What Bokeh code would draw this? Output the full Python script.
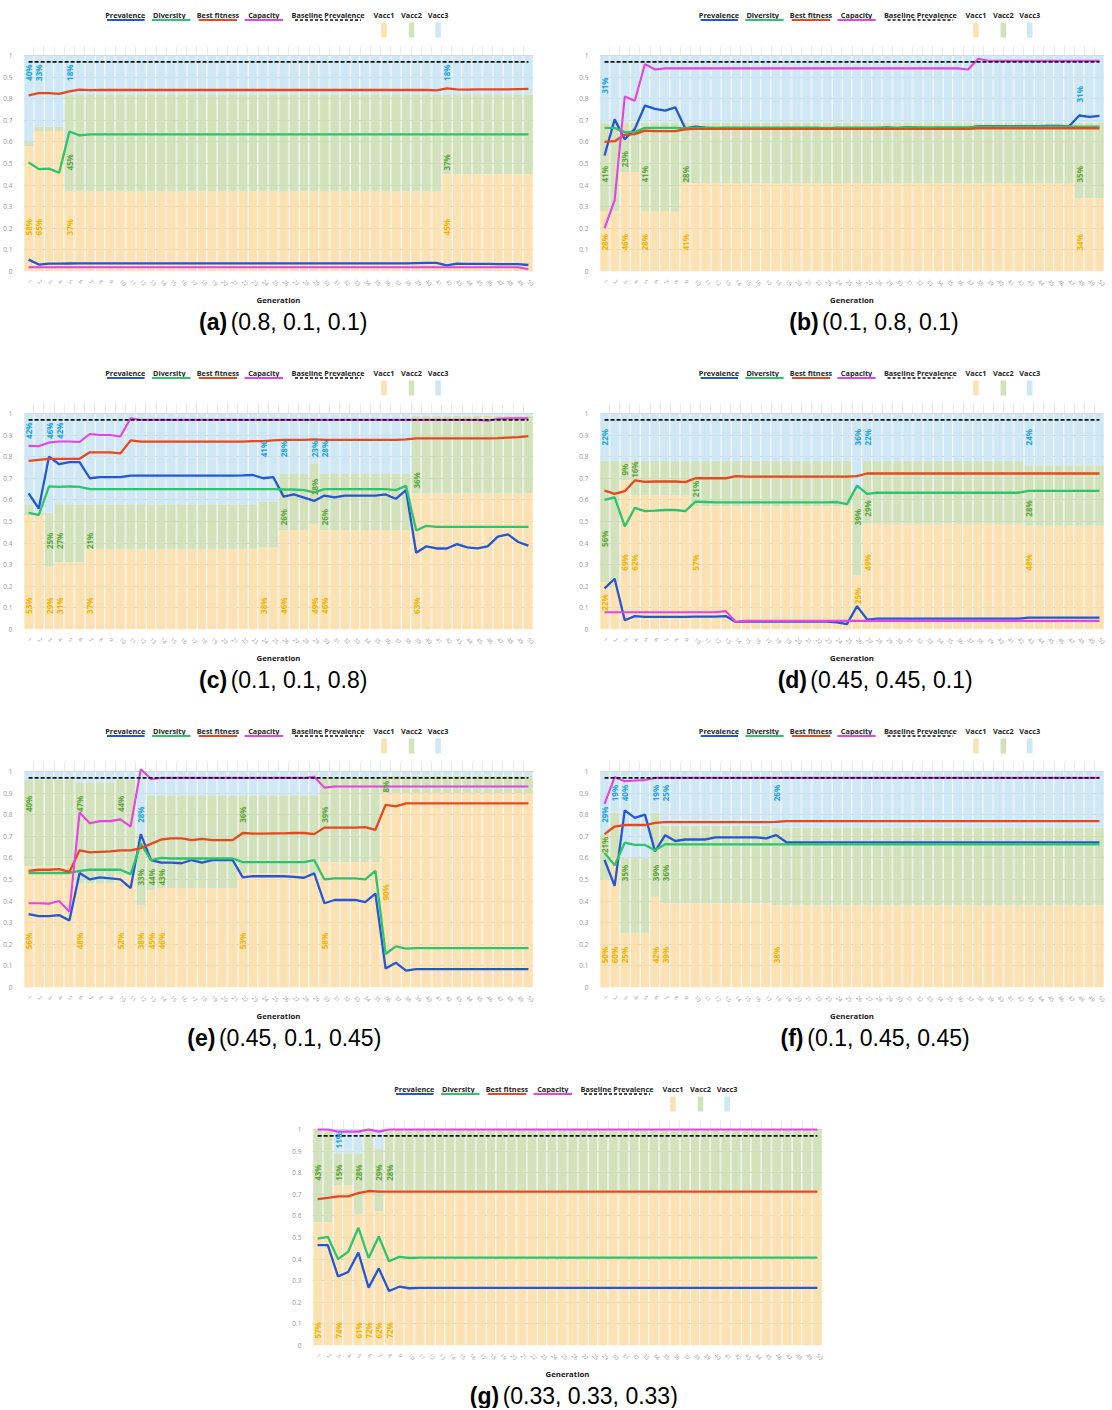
import math
from bokeh.plotting import figure
from bokeh.models import ColumnDataSource, Range1d, FixedTicker, Spacer
from bokeh.layouts import column, row
from bokeh.core.properties import value
from bokeh.embed import file_html
from bokeh.resources import INLINE

# ---------------------------------------------------------------- data
GENS = list(range(1, 51))
BASE_X = [1, 50]
BASE_Y = [0.97, 0.97]
YTICKS = [0.0, 0.1, 0.2, 0.3, 0.4, 0.5, 0.6, 0.7, 0.8, 0.9, 1.0]
YLABELS = ["0", "0.1", "0.2", "0.3", "0.4", "0.5", "0.6", "0.7", "0.8", "0.9", "1"]
SERIES_NAMES = ["Prevalence", "Diversity", "Best fitness", "Capacity", "Baseline Prevalence"]
VACC_NAMES = ["Vacc1", "Vacc2", "Vacc3"]

# (a) (0.8, 0.1, 0.1)
A_PREV = [0.055, 0.032, 0.036, 0.036, 0.037, 0.038, 0.038, 0.038, 0.038, 0.038,
          0.038, 0.038, 0.038, 0.038, 0.038, 0.038, 0.038, 0.038, 0.038, 0.038,
          0.038, 0.038, 0.038, 0.038, 0.038, 0.038, 0.038, 0.038, 0.038, 0.038,
          0.038, 0.038, 0.038, 0.038, 0.038, 0.038, 0.038, 0.038, 0.039, 0.040,
          0.040, 0.028, 0.036, 0.035, 0.035, 0.035, 0.034, 0.034, 0.034, 0.030]
A_DIV = [0.505, 0.474, 0.476, 0.457, 0.648, 0.630, 0.635, 0.635, 0.635, 0.635,
         0.635, 0.635, 0.635, 0.635, 0.635, 0.635, 0.635, 0.635, 0.635, 0.635,
         0.635, 0.635, 0.635, 0.635, 0.635, 0.635, 0.635, 0.635, 0.635, 0.635,
         0.635, 0.635, 0.635, 0.635, 0.635, 0.635, 0.635, 0.635, 0.635, 0.635,
         0.635, 0.635, 0.635, 0.635, 0.635, 0.635, 0.635, 0.635, 0.635, 0.635]
A_FIT = [0.815, 0.826, 0.826, 0.822, 0.834, 0.842, 0.839, 0.840, 0.840, 0.840,
         0.840, 0.840, 0.840, 0.840, 0.840, 0.840, 0.840, 0.840, 0.840, 0.840,
         0.840, 0.840, 0.840, 0.840, 0.840, 0.840, 0.840, 0.840, 0.840, 0.840,
         0.840, 0.840, 0.840, 0.840, 0.840, 0.840, 0.840, 0.840, 0.840, 0.840,
         0.838, 0.848, 0.843, 0.842, 0.843, 0.843, 0.843, 0.843, 0.844, 0.845]
A_CAP = [0.020, 0.020, 0.020, 0.020, 0.020, 0.020, 0.020, 0.020, 0.020, 0.020,
         0.020, 0.020, 0.020, 0.020, 0.020, 0.020, 0.020, 0.020, 0.020, 0.020,
         0.020, 0.020, 0.020, 0.020, 0.020, 0.020, 0.020, 0.020, 0.020, 0.020,
         0.020, 0.020, 0.020, 0.020, 0.020, 0.020, 0.020, 0.020, 0.020, 0.020,
         0.020, 0.020, 0.020, 0.020, 0.020, 0.020, 0.020, 0.020, 0.020, 0.010]
A_V1 = [58, 65, 65, 65, 37, 37, 37, 37, 37, 37,
        37, 37, 37, 37, 37, 37, 37, 37, 37, 37,
        37, 37, 37, 37, 37, 37, 37, 37, 37, 37,
        37, 37, 37, 37, 37, 37, 37, 37, 37, 37,
        37, 45, 45, 45, 45, 45, 45, 45, 45, 45]
A_V2 = [2, 2, 2, 2, 45, 45, 45, 45, 45, 45,
        45, 45, 45, 45, 45, 45, 45, 45, 45, 45,
        45, 45, 45, 45, 45, 45, 45, 45, 45, 45,
        45, 45, 45, 45, 45, 45, 45, 45, 45, 45,
        45, 37, 37, 37, 37, 37, 37, 37, 37, 37]
A_V3 = [40, 33, 33, 33, 18, 18, 18, 18, 18, 18,
        18, 18, 18, 18, 18, 18, 18, 18, 18, 18,
        18, 18, 18, 18, 18, 18, 18, 18, 18, 18,
        18, 18, 18, 18, 18, 18, 18, 18, 18, 18,
        18, 18, 18, 18, 18, 18, 18, 18, 18, 18]
A_LAB = [(1, 1), (1, 3), (2, 1), (2, 3), (5, 1), (5, 2), (5, 3), (42, 1), (42, 2), (42, 3)]

# (b) (0.1, 0.8, 0.1)
B_PREV = [0.537, 0.704, 0.612, 0.660, 0.768, 0.753, 0.745, 0.760, 0.662, 0.670,
          0.666, 0.663, 0.665, 0.665, 0.665, 0.665, 0.665, 0.665, 0.665, 0.665,
          0.665, 0.665, 0.662, 0.665, 0.665, 0.665, 0.665, 0.665, 0.667, 0.663,
          0.668, 0.666, 0.663, 0.665, 0.665, 0.665, 0.665, 0.673, 0.673, 0.673,
          0.673, 0.673, 0.673, 0.673, 0.674, 0.674, 0.672, 0.722, 0.716, 0.720]
B_DIV = [0.665, 0.665, 0.645, 0.645, 0.665, 0.665, 0.665, 0.665, 0.662, 0.665,
         0.665, 0.665, 0.665, 0.665, 0.665, 0.665, 0.665, 0.665, 0.665, 0.665,
         0.665, 0.665, 0.665, 0.665, 0.665, 0.665, 0.665, 0.665, 0.665, 0.665,
         0.667, 0.667, 0.667, 0.667, 0.667, 0.667, 0.667, 0.670, 0.670, 0.670,
         0.670, 0.670, 0.670, 0.670, 0.670, 0.670, 0.670, 0.670, 0.670, 0.670]
B_FIT = [0.600, 0.603, 0.633, 0.636, 0.652, 0.650, 0.650, 0.650, 0.658, 0.660,
         0.660, 0.660, 0.660, 0.660, 0.660, 0.660, 0.660, 0.660, 0.660, 0.660,
         0.660, 0.660, 0.660, 0.660, 0.660, 0.660, 0.660, 0.660, 0.660, 0.660,
         0.660, 0.660, 0.660, 0.660, 0.660, 0.660, 0.660, 0.663, 0.663, 0.663,
         0.663, 0.663, 0.663, 0.663, 0.663, 0.663, 0.663, 0.663, 0.663, 0.663]
B_CAP = [0.200, 0.330, 0.810, 0.790, 0.960, 0.935, 0.940, 0.940, 0.940, 0.940,
         0.940, 0.940, 0.940, 0.940, 0.940, 0.940, 0.940, 0.940, 0.940, 0.940,
         0.940, 0.940, 0.940, 0.940, 0.940, 0.940, 0.940, 0.940, 0.940, 0.940,
         0.940, 0.940, 0.940, 0.940, 0.940, 0.940, 0.935, 0.985, 0.975, 0.975,
         0.975, 0.975, 0.975, 0.975, 0.975, 0.975, 0.975, 0.975, 0.975, 0.975]
B_V1 = [28, 28, 46, 46, 28, 28, 28, 28, 41, 41,
        41, 41, 41, 41, 41, 41, 41, 41, 41, 41,
        41, 41, 41, 41, 41, 41, 41, 41, 41, 41,
        41, 41, 41, 41, 41, 41, 41, 41, 41, 41,
        41, 41, 41, 41, 41, 41, 41, 34, 34, 34]
B_V2 = [41, 41, 23, 23, 41, 41, 41, 41, 28, 28,
        28, 28, 28, 28, 28, 28, 28, 28, 28, 28,
        28, 28, 28, 28, 28, 28, 28, 28, 28, 28,
        28, 28, 28, 28, 28, 28, 28, 28, 28, 28,
        28, 28, 28, 28, 28, 28, 28, 35, 35, 35]
B_V3 = [31, 31, 31, 31, 31, 31, 31, 31, 31, 31,
        31, 31, 31, 31, 31, 31, 31, 31, 31, 31,
        31, 31, 31, 31, 31, 31, 31, 31, 31, 31,
        31, 31, 31, 31, 31, 31, 31, 31, 31, 31,
        31, 31, 31, 31, 31, 31, 31, 31, 31, 31]
B_LAB = [(1, 1), (1, 2), (1, 3), (3, 1), (3, 2), (5, 1), (5, 2), (9, 1), (9, 2),
         (48, 1), (48, 2), (48, 3)]

# (c) (0.1, 0.1, 0.8)
C_PREV = [0.630, 0.560, 0.800, 0.765, 0.775, 0.775, 0.700, 0.705, 0.705, 0.705,
          0.712, 0.712, 0.712, 0.712, 0.712, 0.712, 0.712, 0.712, 0.712, 0.712,
          0.712, 0.713, 0.715, 0.700, 0.705, 0.615, 0.625, 0.610, 0.595, 0.620,
          0.612, 0.620, 0.620, 0.620, 0.620, 0.625, 0.605, 0.645, 0.355, 0.385,
          0.375, 0.375, 0.395, 0.380, 0.375, 0.385, 0.430, 0.440, 0.405, 0.388]
C_DIV = [0.540, 0.530, 0.662, 0.660, 0.662, 0.660, 0.650, 0.650, 0.650, 0.650,
         0.650, 0.650, 0.650, 0.650, 0.650, 0.650, 0.650, 0.650, 0.650, 0.650,
         0.650, 0.650, 0.650, 0.650, 0.650, 0.648, 0.648, 0.645, 0.635, 0.650,
         0.650, 0.650, 0.650, 0.650, 0.650, 0.650, 0.645, 0.665, 0.458, 0.480,
         0.475, 0.475, 0.475, 0.475, 0.475, 0.475, 0.475, 0.475, 0.475, 0.475]
C_FIT = [0.780, 0.785, 0.790, 0.790, 0.790, 0.790, 0.820, 0.820, 0.820, 0.815,
         0.875, 0.870, 0.870, 0.870, 0.870, 0.870, 0.870, 0.870, 0.870, 0.870,
         0.870, 0.870, 0.872, 0.872, 0.875, 0.878, 0.878, 0.878, 0.880, 0.878,
         0.878, 0.878, 0.878, 0.878, 0.878, 0.878, 0.878, 0.880, 0.885, 0.885,
         0.885, 0.885, 0.885, 0.885, 0.885, 0.885, 0.886, 0.888, 0.890, 0.895]
C_CAP = [0.850, 0.848, 0.865, 0.870, 0.870, 0.868, 0.905, 0.900, 0.900, 0.893,
         0.978, 0.970, 0.970, 0.970, 0.970, 0.970, 0.970, 0.970, 0.970, 0.970,
         0.970, 0.970, 0.970, 0.970, 0.970, 0.970, 0.970, 0.970, 0.970, 0.970,
         0.970, 0.970, 0.970, 0.970, 0.970, 0.970, 0.970, 0.970, 0.970, 0.970,
         0.970, 0.970, 0.970, 0.970, 0.970, 0.966, 0.975, 0.977, 0.977, 0.977]
C_V1 = [53, 53, 29, 31, 31, 31, 37, 37, 37, 37,
        37, 37, 37, 37, 37, 37, 37, 37, 37, 37,
        37, 37, 37, 38, 38, 46, 46, 46, 49, 46,
        46, 46, 46, 46, 46, 46, 46, 46, 63, 63,
        63, 63, 63, 63, 63, 63, 63, 63, 63, 63]
C_V2 = [5, 1, 25, 27, 27, 27, 21, 21, 21, 21,
        21, 21, 21, 21, 21, 21, 21, 21, 21, 21,
        21, 21, 21, 21, 21, 26, 26, 26, 28, 26,
        26, 26, 26, 26, 26, 26, 26, 26, 36, 36,
        36, 36, 36, 36, 36, 36, 36, 36, 36, 36]
C_V3 = [42, 46, 46, 42, 42, 42, 42, 42, 42, 42,
        42, 42, 42, 42, 42, 42, 42, 42, 42, 42,
        42, 42, 42, 41, 41, 28, 28, 28, 23, 28,
        28, 28, 28, 28, 28, 28, 28, 28, 1, 1,
        1, 1, 1, 1, 1, 1, 1, 1, 1, 1]
C_LAB = [(1, 1), (1, 3), (3, 1), (3, 2), (3, 3), (4, 1), (4, 2), (4, 3), (7, 1), (7, 2),
         (24, 1), (24, 3), (26, 1), (26, 2), (26, 3), (29, 1), (29, 2), (29, 3),
         (30, 1), (30, 2), (30, 3), (39, 1), (39, 2)]

# (d) (0.45, 0.45, 0.1)
D_PREV = [0.190, 0.235, 0.043, 0.062, 0.058, 0.058, 0.058, 0.058, 0.058, 0.060,
          0.060, 0.060, 0.062, 0.035, 0.037, 0.037, 0.037, 0.037, 0.037, 0.037,
          0.037, 0.037, 0.036, 0.033, 0.025, 0.108, 0.046, 0.050, 0.050, 0.050,
          0.050, 0.050, 0.050, 0.050, 0.050, 0.050, 0.050, 0.050, 0.050, 0.050,
          0.050, 0.050, 0.055, 0.055, 0.055, 0.055, 0.055, 0.055, 0.055, 0.055]
D_DIV = [0.600, 0.612, 0.477, 0.563, 0.548, 0.550, 0.553, 0.553, 0.548, 0.592,
         0.590, 0.588, 0.588, 0.588, 0.588, 0.588, 0.588, 0.588, 0.588, 0.588,
         0.588, 0.588, 0.588, 0.590, 0.580, 0.666, 0.628, 0.633, 0.633, 0.633,
         0.633, 0.633, 0.633, 0.633, 0.633, 0.633, 0.633, 0.633, 0.633, 0.633,
         0.633, 0.633, 0.642, 0.642, 0.642, 0.642, 0.642, 0.642, 0.642, 0.642]
D_FIT = [0.643, 0.628, 0.640, 0.690, 0.683, 0.685, 0.685, 0.685, 0.682, 0.700,
         0.700, 0.700, 0.700, 0.710, 0.708, 0.708, 0.708, 0.708, 0.708, 0.708,
         0.708, 0.708, 0.708, 0.708, 0.708, 0.710, 0.722, 0.722, 0.722, 0.722,
         0.722, 0.722, 0.722, 0.722, 0.722, 0.722, 0.722, 0.722, 0.722, 0.722,
         0.722, 0.722, 0.722, 0.722, 0.722, 0.722, 0.722, 0.722, 0.722, 0.722]
D_CAP = [0.080, 0.080, 0.080, 0.080, 0.080, 0.080, 0.080, 0.080, 0.080, 0.080,
         0.080, 0.080, 0.085, 0.035, 0.040, 0.040, 0.040, 0.040, 0.040, 0.040,
         0.040, 0.040, 0.040, 0.040, 0.040, 0.040, 0.040, 0.040, 0.040, 0.040,
         0.040, 0.040, 0.040, 0.040, 0.040, 0.040, 0.040, 0.040, 0.040, 0.040,
         0.040, 0.040, 0.040, 0.040, 0.040, 0.040, 0.040, 0.040, 0.040, 0.040]
D_V1 = [22, 22, 69, 62, 62, 62, 62, 62, 62, 57,
        57, 57, 57, 57, 57, 57, 57, 57, 57, 57,
        57, 57, 57, 57, 57, 25, 49, 49, 49, 49,
        49, 49, 49, 49, 49, 49, 49, 49, 49, 49,
        49, 49, 48, 48, 48, 48, 48, 48, 48, 48]
D_V2 = [56, 56, 9, 16, 16, 16, 16, 16, 16, 21,
        21, 21, 21, 21, 21, 21, 21, 21, 21, 21,
        21, 21, 21, 21, 21, 39, 29, 29, 29, 29,
        29, 29, 29, 29, 29, 29, 29, 29, 29, 29,
        29, 29, 28, 28, 28, 28, 28, 28, 28, 28]
D_V3 = [22, 22, 22, 22, 22, 22, 22, 22, 22, 22,
        22, 22, 22, 22, 22, 22, 22, 22, 22, 22,
        22, 22, 22, 22, 22, 36, 22, 22, 22, 22,
        22, 22, 22, 22, 22, 22, 22, 22, 22, 22,
        22, 22, 24, 24, 24, 24, 24, 24, 24, 24]
D_LAB = [(1, 1), (1, 2), (1, 3), (3, 1), (3, 2), (4, 1), (4, 2), (10, 1), (10, 2),
         (26, 1), (26, 2), (26, 3), (27, 1), (27, 2), (27, 3), (43, 1), (43, 2), (43, 3)]

# (e) (0.45, 0.1, 0.45)
E_PREV = [0.340, 0.330, 0.330, 0.335, 0.310, 0.530, 0.500, 0.510, 0.505, 0.500,
          0.460, 0.710, 0.590, 0.578, 0.578, 0.575, 0.590, 0.578, 0.590, 0.590,
          0.590, 0.510, 0.515, 0.515, 0.515, 0.515, 0.512, 0.508, 0.528, 0.390,
          0.405, 0.405, 0.405, 0.395, 0.435, 0.088, 0.115, 0.078, 0.085, 0.085,
          0.085, 0.085, 0.085, 0.085, 0.085, 0.085, 0.085, 0.085, 0.085, 0.085]
E_DIV = [0.530, 0.530, 0.530, 0.530, 0.530, 0.540, 0.545, 0.545, 0.545, 0.545,
         0.525, 0.666, 0.590, 0.600, 0.597, 0.597, 0.597, 0.597, 0.597, 0.597,
         0.597, 0.580, 0.580, 0.580, 0.580, 0.580, 0.580, 0.580, 0.590, 0.500,
         0.505, 0.505, 0.505, 0.500, 0.540, 0.155, 0.190, 0.180, 0.182, 0.182,
         0.182, 0.182, 0.182, 0.182, 0.182, 0.182, 0.182, 0.182, 0.182, 0.182]
E_FIT = [0.540, 0.545, 0.545, 0.548, 0.535, 0.635, 0.625, 0.628, 0.630, 0.635,
         0.635, 0.645, 0.665, 0.685, 0.690, 0.690, 0.682, 0.688, 0.682, 0.682,
         0.682, 0.715, 0.712, 0.712, 0.713, 0.713, 0.715, 0.715, 0.710, 0.740,
         0.740, 0.740, 0.740, 0.742, 0.730, 0.845, 0.838, 0.852, 0.852, 0.852,
         0.852, 0.852, 0.852, 0.852, 0.852, 0.852, 0.852, 0.852, 0.852, 0.852]
E_CAP = [0.390, 0.390, 0.388, 0.400, 0.350, 0.810, 0.760, 0.770, 0.770, 0.778,
         0.745, 1.010, 0.965, 0.970, 0.970, 0.970, 0.970, 0.970, 0.970, 0.970,
         0.970, 0.970, 0.970, 0.970, 0.970, 0.970, 0.970, 0.970, 0.975, 0.925,
         0.930, 0.930, 0.930, 0.930, 0.930, 0.930, 0.930, 0.930, 0.930, 0.930,
         0.930, 0.930, 0.930, 0.930, 0.930, 0.930, 0.930, 0.930, 0.930, 0.930]
E_V1 = [56, 56, 56, 56, 56, 48, 48, 48, 48, 52,
        52, 38, 45, 46, 46, 46, 46, 46, 46, 46,
        46, 53, 53, 53, 53, 53, 53, 53, 53, 58,
        58, 58, 58, 58, 58, 90, 90, 90, 90, 90,
        90, 90, 90, 90, 90, 90, 90, 90, 90, 90]
E_V2 = [40, 40, 40, 40, 40, 47, 47, 47, 47, 44,
        44, 33, 44, 43, 43, 43, 43, 43, 43, 43,
        43, 36, 36, 36, 36, 36, 36, 36, 36, 39,
        39, 39, 39, 39, 39, 8, 8, 8, 8, 8,
        8, 8, 8, 8, 8, 8, 8, 8, 8, 8]
E_V3 = [4, 4, 4, 4, 4, 5, 5, 5, 5, 4,
        4, 28, 11, 11, 11, 11, 11, 11, 11, 11,
        11, 11, 11, 11, 11, 11, 11, 11, 11, 3,
        3, 3, 3, 3, 3, 2, 2, 2, 2, 2,
        2, 2, 2, 2, 2, 2, 2, 2, 2, 2]
E_LAB = [(1, 1), (1, 2), (6, 1), (6, 2), (10, 1), (10, 2), (12, 1), (12, 2), (12, 3),
         (13, 1), (13, 2), (14, 1), (14, 2), (22, 1), (22, 2), (30, 1), (30, 2),
         (36, 1), (36, 2)]

# (f) (0.1, 0.45, 0.45)
F_PREV = [0.590, 0.470, 0.820, 0.785, 0.800, 0.630, 0.705, 0.678, 0.685, 0.685,
          0.685, 0.695, 0.695, 0.695, 0.695, 0.695, 0.690, 0.705, 0.672, 0.672,
          0.672, 0.672, 0.672, 0.672, 0.672, 0.672, 0.672, 0.672, 0.672, 0.672,
          0.672, 0.672, 0.672, 0.672, 0.672, 0.672, 0.672, 0.672, 0.672, 0.672,
          0.672, 0.672, 0.672, 0.672, 0.672, 0.672, 0.672, 0.672, 0.672, 0.672]
F_DIV = [0.623, 0.566, 0.670, 0.660, 0.660, 0.635, 0.663, 0.662, 0.662, 0.662,
         0.662, 0.662, 0.662, 0.662, 0.662, 0.662, 0.662, 0.662, 0.662, 0.662,
         0.662, 0.662, 0.662, 0.662, 0.662, 0.662, 0.662, 0.662, 0.662, 0.662,
         0.662, 0.662, 0.662, 0.662, 0.662, 0.662, 0.662, 0.662, 0.662, 0.662,
         0.662, 0.662, 0.662, 0.662, 0.662, 0.662, 0.662, 0.662, 0.662, 0.662]
F_FIT = [0.710, 0.745, 0.752, 0.752, 0.752, 0.762, 0.765, 0.765, 0.765, 0.765,
         0.765, 0.765, 0.765, 0.765, 0.765, 0.765, 0.765, 0.767, 0.770, 0.770,
         0.770, 0.770, 0.770, 0.770, 0.770, 0.770, 0.770, 0.770, 0.770, 0.770,
         0.770, 0.770, 0.770, 0.770, 0.770, 0.770, 0.770, 0.770, 0.770, 0.770,
         0.770, 0.770, 0.770, 0.770, 0.770, 0.770, 0.770, 0.770, 0.770, 0.770]
F_CAP = [0.850, 0.974, 0.955, 0.958, 0.960, 0.970, 0.970, 0.970, 0.970, 0.970,
         0.970, 0.970, 0.970, 0.970, 0.970, 0.970, 0.970, 0.970, 0.970, 0.970,
         0.970, 0.970, 0.970, 0.970, 0.970, 0.970, 0.970, 0.970, 0.970, 0.970,
         0.970, 0.970, 0.970, 0.970, 0.970, 0.970, 0.970, 0.970, 0.970, 0.970,
         0.970, 0.970, 0.970, 0.970, 0.970, 0.970, 0.970, 0.970, 0.970, 0.970]
F_V1 = [50, 60, 25, 25, 25, 42, 39, 39, 39, 39,
        39, 39, 39, 39, 39, 39, 39, 38, 38, 38,
        38, 38, 38, 38, 38, 38, 38, 38, 38, 38,
        38, 38, 38, 38, 38, 38, 38, 38, 38, 38,
        38, 38, 38, 38, 38, 38, 38, 38, 38, 38]
F_V2 = [21, 21, 35, 35, 35, 39, 36, 36, 36, 36,
        36, 36, 36, 36, 36, 36, 36, 36, 36, 36,
        36, 36, 36, 36, 36, 36, 36, 36, 36, 36,
        36, 36, 36, 36, 36, 36, 36, 36, 36, 36,
        36, 36, 36, 36, 36, 36, 36, 36, 36, 36]
F_V3 = [29, 19, 40, 40, 40, 19, 25, 25, 25, 25,
        25, 25, 25, 25, 25, 25, 25, 26, 26, 26,
        26, 26, 26, 26, 26, 26, 26, 26, 26, 26,
        26, 26, 26, 26, 26, 26, 26, 26, 26, 26,
        26, 26, 26, 26, 26, 26, 26, 26, 26, 26]
F_LAB = [(1, 1), (1, 2), (1, 3), (2, 1), (2, 3), (3, 1), (3, 2), (3, 3), (6, 1), (6, 2),
         (6, 3), (7, 1), (7, 2), (7, 3), (18, 1), (18, 3)]

# (g) (0.33, 0.33, 0.33)
G_PREV = [0.465, 0.465, 0.320, 0.340, 0.430, 0.268, 0.357, 0.252, 0.272, 0.265,
          0.267, 0.267, 0.267, 0.267, 0.267, 0.267, 0.267, 0.267, 0.267, 0.267,
          0.267, 0.267, 0.267, 0.267, 0.267, 0.267, 0.267, 0.267, 0.267, 0.267,
          0.267, 0.267, 0.267, 0.267, 0.267, 0.267, 0.267, 0.267, 0.267, 0.267,
          0.267, 0.267, 0.267, 0.267, 0.267, 0.267, 0.267, 0.267, 0.267, 0.267]
G_DIV = [0.495, 0.503, 0.400, 0.434, 0.545, 0.405, 0.505, 0.390, 0.410, 0.405,
         0.407, 0.407, 0.407, 0.407, 0.407, 0.407, 0.407, 0.407, 0.407, 0.407,
         0.407, 0.407, 0.407, 0.407, 0.407, 0.407, 0.407, 0.407, 0.407, 0.407,
         0.407, 0.407, 0.407, 0.407, 0.407, 0.407, 0.407, 0.407, 0.407, 0.407,
         0.407, 0.407, 0.407, 0.407, 0.407, 0.407, 0.407, 0.407, 0.407, 0.407]
G_FIT = [0.677, 0.683, 0.690, 0.690, 0.705, 0.715, 0.712, 0.712, 0.712, 0.712,
         0.712, 0.712, 0.712, 0.712, 0.712, 0.712, 0.712, 0.712, 0.712, 0.712,
         0.712, 0.712, 0.712, 0.712, 0.712, 0.712, 0.712, 0.712, 0.712, 0.712,
         0.712, 0.712, 0.712, 0.712, 0.712, 0.712, 0.712, 0.712, 0.712, 0.712,
         0.712, 0.712, 0.712, 0.712, 0.712, 0.712, 0.712, 0.712, 0.712, 0.712]
G_CAP = [1.000, 1.000, 0.990, 0.990, 0.990, 1.000, 0.990, 1.000, 1.000, 1.000,
         1.000, 1.000, 1.000, 1.000, 1.000, 1.000, 1.000, 1.000, 1.000, 1.000,
         1.000, 1.000, 1.000, 1.000, 1.000, 1.000, 1.000, 1.000, 1.000, 1.000,
         1.000, 1.000, 1.000, 1.000, 1.000, 1.000, 1.000, 1.000, 1.000, 1.000,
         1.000, 1.000, 1.000, 1.000, 1.000, 1.000, 1.000, 1.000, 1.000, 1.000]
G_V1 = [57, 57, 74, 74, 61, 72, 62, 72, 72, 72,
        72, 72, 72, 72, 72, 72, 72, 72, 72, 72,
        72, 72, 72, 72, 72, 72, 72, 72, 72, 72,
        72, 72, 72, 72, 72, 72, 72, 72, 72, 72,
        72, 72, 72, 72, 72, 72, 72, 72, 72, 72]
G_V2 = [43, 43, 15, 15, 28, 28, 29, 28, 28, 28,
        28, 28, 28, 28, 28, 28, 28, 28, 28, 28,
        28, 28, 28, 28, 28, 28, 28, 28, 28, 28,
        28, 28, 28, 28, 28, 28, 28, 28, 28, 28,
        28, 28, 28, 28, 28, 28, 28, 28, 28, 28]
G_V3 = [0, 0, 11, 11, 11, 0, 9, 0, 0, 0,
        0, 0, 0, 0, 0, 0, 0, 0, 0, 0,
        0, 0, 0, 0, 0, 0, 0, 0, 0, 0,
        0, 0, 0, 0, 0, 0, 0, 0, 0, 0,
        0, 0, 0, 0, 0, 0, 0, 0, 0, 0]
G_LAB = [(1, 1), (1, 2), (3, 1), (3, 2), (3, 3), (5, 1), (5, 2), (6, 1), (7, 1), (7, 2),
         (8, 1), (8, 2)]

# ---------------------------------------------------------------- styles
COL_PREV = "#2457D6"
COL_DIV = "#2CC46C"
COL_FIT = "#E8481E"
COL_CAP = "#E444E4"
COL_BASE = "#111111"
FILLS = ["#FCDFA9", "#CDDFB2", "#C9E5F5"]
LEG_FILLS = ["#FCE2B2", "#D2E2BA", "#CEE8F6"]
LAB_COLS = ["#F2B400", "#5EA63B", "#22A3E0"]
FONT = "Open Sans"
HEAD_H = 45          # legend strip above each plot
MAIN_H = 262         # plot frame (226) + x axis
FRAME_H = 226

# label heights (style), per panel: default per vaccine + overrides
LABEL_Y = {
    "a": ({1: 0.205, 2: 0.505, 3: 0.92}, {}),
    "b": ({1: 0.135, 2: 0.45, 3: 0.86}, {(3, 2): 0.52, (48, 3): 0.82}),
    "c": ({1: 0.11, 2: 0.41, 3: 0.92}, {(26, 2): 0.52, (30, 2): 0.52, (29, 2): 0.66,
                                        (39, 2): 0.69, (24, 3): 0.835, (26, 3): 0.835,
                                        (29, 3): 0.835, (30, 3): 0.835}),
    "d": ({1: 0.31, 2: 0.56, 3: 0.89}, {(1, 1): 0.125, (26, 1): 0.155, (1, 2): 0.42,
                                        (3, 2): 0.74, (4, 2): 0.74, (10, 2): 0.65,
                                        (26, 2): 0.52}),
    "e": ({1: 0.215, 2: 0.85, 3: 0.8}, {(36, 1): 0.44, (12, 2): 0.51, (13, 2): 0.51,
                                        (14, 2): 0.51, (22, 2): 0.8, (30, 2): 0.8,
                                        (36, 2): 0.93}),
    "f": ({1: 0.15, 2: 0.53, 3: 0.9}, {(1, 2): 0.66, (1, 3): 0.8}),
    "g": ({1: 0.07, 2: 0.8, 3: 0.95}, {}),
}

# legend layout relative to the plot frame's left edge (px)
LEG_TEXT_X = [88, 136, 189, 239, 309]
LEG_LINE_X = [(68, 109), (117, 159), (168, 210), (218, 260), (273, 345)]
LEG_BOX_X = [370, 400, 429]

# Arial/Liberation Sans advance widths (em) for caption centring
W_REG = {"(": 0.333, ")": 0.333, ".": 0.278, ",": 0.278, " ": 0.278}
W_BOLD = {"(": 0.333, ")": 0.333, "a": 0.556, "b": 0.611, "c": 0.556, "d": 0.611,
          "e": 0.556, "f": 0.333, "g": 0.611}


def twidth(s, table, size):
    return sum(table.get(ch, 0.556) for ch in s) * size


def strip_fig(width, height):
    f = figure(width=width, height=height, x_range=Range1d(0, width),
               y_range=Range1d(height, 0), x_axis_type=None, y_axis_type=None,
               output_backend="svg", toolbar_location=None, min_border=0)
    f.outline_line_color = None
    f.background_fill_color = "white"
    f.border_fill_color = "white"
    return f


def make_header(width, mbl):
    h = strip_fig(width, HEAD_H)
    cols = [COL_PREV, COL_DIV, COL_FIT, COL_CAP]
    h.text(x=[mbl + x for x in LEG_TEXT_X] + [mbl + x for x in LEG_BOX_X],
           y=[14] * 8, text=SERIES_NAMES + VACC_NAMES,
           text_font=value(FONT), text_font_size="7.3px", text_font_style="bold",
           text_color="#262626", text_align="center", text_baseline="middle")
    h.segment(x0=[mbl + a for a, b in LEG_LINE_X[:4]], x1=[mbl + b for a, b in LEG_LINE_X[:4]],
              y0=[19.5] * 4, y1=[19.5] * 4, line_color=cols, line_width=2)
    a, b = LEG_LINE_X[4]
    h.segment(x0=[mbl + a], x1=[mbl + b], y0=[19.5], y1=[19.5], line_color=COL_BASE,
              line_width=1.6, line_dash="3 2")
    h.quad(left=[mbl + x - 3 for x in LEG_BOX_X], right=[mbl + x + 3 for x in LEG_BOX_X],
           top=[22] * 3, bottom=[37] * 3, fill_color=LEG_FILLS, line_color=None)
    return h


def make_footer(width, height, mbl, fw, key, params):
    f = strip_fig(width, height)
    size = 23
    bold_txt = "(%s)" % key
    wb = twidth(bold_txt, W_BOLD, size)
    wr = twidth(params, W_REG, size)
    sp = 0.278 * size
    x0 = mbl + fw / 2 - 1 - (wb + sp + wr) / 2
    f.text(x=[x0], y=[14], text=[bold_txt], text_font=value("Liberation Sans"),
           text_font_style="bold", text_font_size="%dpx" % size, text_color="#000000",
           text_align="left", text_baseline="middle")
    f.text(x=[x0 + wb + sp], y=[14], text=[params], text_font=value("Liberation Sans"),
           text_font_size="%dpx" % size, text_color="#000000",
           text_align="left", text_baseline="middle")
    return f


def make_main(key, prev, div, fit, cap, v1, v2, v3, labs, width, mbl, mbr):
    for arr in (prev, div, fit, cap, v1, v2, v3):
        assert len(arr) == 50, (key, len(arr))
    p = figure(width=width, height=MAIN_H, x_range=Range1d(0.5, 50.5),
               y_range=Range1d(0, 1.046), output_backend="svg", toolbar_location=None,
               min_border_left=mbl, min_border_right=mbr, min_border_top=0,
               min_border_bottom=MAIN_H - FRAME_H)
    p.outline_line_color = None
    p.background_fill_color = "white"
    p.border_fill_color = "white"

    p.yaxis.ticker = FixedTicker(ticks=YTICKS)
    p.yaxis.major_label_overrides = {t: s for t, s in zip(YTICKS, YLABELS)}
    p.xaxis.ticker = FixedTicker(ticks=GENS)
    p.xaxis.major_label_orientation = -math.pi / 4
    for ax in (p.xaxis[0], p.yaxis[0]):
        ax.axis_line_color = None
        ax.major_tick_line_color = None
        ax.minor_tick_line_color = None
        ax.major_label_text_color = "#9a9a9a"
        ax.major_label_text_font = FONT
    p.yaxis.major_label_text_font_size = "6.5px"
    p.yaxis.major_label_standoff = 5
    p.xaxis.major_label_text_font_size = "5.5px"
    p.xaxis.major_label_standoff = 3
    p.xaxis.axis_label = "Generation"
    p.xaxis.axis_label_text_font = FONT
    p.xaxis.axis_label_text_font_size = "7.8px"
    p.xaxis.axis_label_text_font_style = "bold"
    p.xaxis.axis_label_text_color = "#1a1a1a"
    p.xaxis.axis_label_standoff = 4

    p.ygrid.grid_line_color = "#d6d6d6"
    p.xgrid.ticker = FixedTicker(ticks=[g + 0.5 for g in GENS[:-1]])
    p.xgrid.grid_line_color = "#ececec"

    src = ColumnDataSource(dict(gen=GENS, v1=[v / 100 for v in v1],
                                v2=[v / 100 for v in v2], v3=[v / 100 for v in v3]))
    p.vbar_stack(["v1", "v2", "v3"], x="gen", width=0.85, fill_color=FILLS,
                 fill_alpha=0.9, line_color=None, source=src)

    p.line(GENS, prev, line_color=COL_PREV, line_width=2.3)
    p.line(GENS, div, line_color=COL_DIV, line_width=2.3)
    p.line(GENS, fit, line_color=COL_FIT, line_width=2.3)
    p.line(GENS, cap, line_color=COL_CAP, line_width=2.1)
    p.line(BASE_X, BASE_Y, line_color=COL_BASE, line_width=1.8, line_dash="4 2")

    base, over = LABEL_Y[key]
    shares = {1: v1, 2: v2, 3: v3}
    lx, ly, lt, lc = [], [], [], []
    for g, v in labs:
        lx.append(g)
        ly.append(over.get((g, v), base[v]))
        lt.append("%d%%" % shares[v][g - 1])
        lc.append(LAB_COLS[v - 1])
    lsrc = ColumnDataSource(dict(x=lx, y=ly, text=lt, color=lc))
    p.text(x="x", y="y", text="text", text_color="color", source=lsrc,
           angle=math.pi / 2, text_font=value(FONT), text_font_style="bold",
           text_font_size="8px", text_align="center", text_baseline="middle")
    return p


def make_panel(key, params, prev, div, fit, cap, v1, v2, v3, labs, total_h,
               width, mbl, mbr):
    fw = width - mbl - mbr
    head = make_header(width, mbl)
    main = make_main(key, prev, div, fit, cap, v1, v2, v3, labs, width, mbl, mbr)
    foot = make_footer(width, total_h - HEAD_H - MAIN_H, mbl, fw, key, params)
    return column(head, main, foot, spacing=0)


ROW_H = 358
LAST_H = 334
L = dict(width=556, mbl=23, mbr=23)
R = dict(width=554, mbl=43, mbr=6)

pa = make_panel("a", "(0.8, 0.1, 0.1)", A_PREV, A_DIV, A_FIT, A_CAP, A_V1, A_V2, A_V3,
                A_LAB, ROW_H, **L)
pb = make_panel("b", "(0.1, 0.8, 0.1)", B_PREV, B_DIV, B_FIT, B_CAP, B_V1, B_V2, B_V3,
                B_LAB, ROW_H, **R)
pc = make_panel("c", "(0.1, 0.1, 0.8)", C_PREV, C_DIV, C_FIT, C_CAP, C_V1, C_V2, C_V3,
                C_LAB, ROW_H, **L)
pd = make_panel("d", "(0.45, 0.45, 0.1)", D_PREV, D_DIV, D_FIT, D_CAP, D_V1, D_V2, D_V3,
                D_LAB, ROW_H, **R)
pe = make_panel("e", "(0.45, 0.1, 0.45)", E_PREV, E_DIV, E_FIT, E_CAP, E_V1, E_V2, E_V3,
                E_LAB, ROW_H, **L)
pf = make_panel("f", "(0.1, 0.45, 0.45)", F_PREV, F_DIV, F_FIT, F_CAP, F_V1, F_V2, F_V3,
                F_LAB, ROW_H, **R)
pg = make_panel("g", "(0.33, 0.33, 0.33)", G_PREV, G_DIV, G_FIT, G_CAP, G_V1, G_V2, G_V3,
                G_LAB, LAST_H, **L)

layout = column(row(pa, pb, spacing=0), row(pc, pd, spacing=0), row(pe, pf, spacing=0),
                row(Spacer(width=289, height=LAST_H), pg, spacing=0), spacing=0)

open("out.html", "w").write(file_html(layout, INLINE, title="Vaccination runs"))
